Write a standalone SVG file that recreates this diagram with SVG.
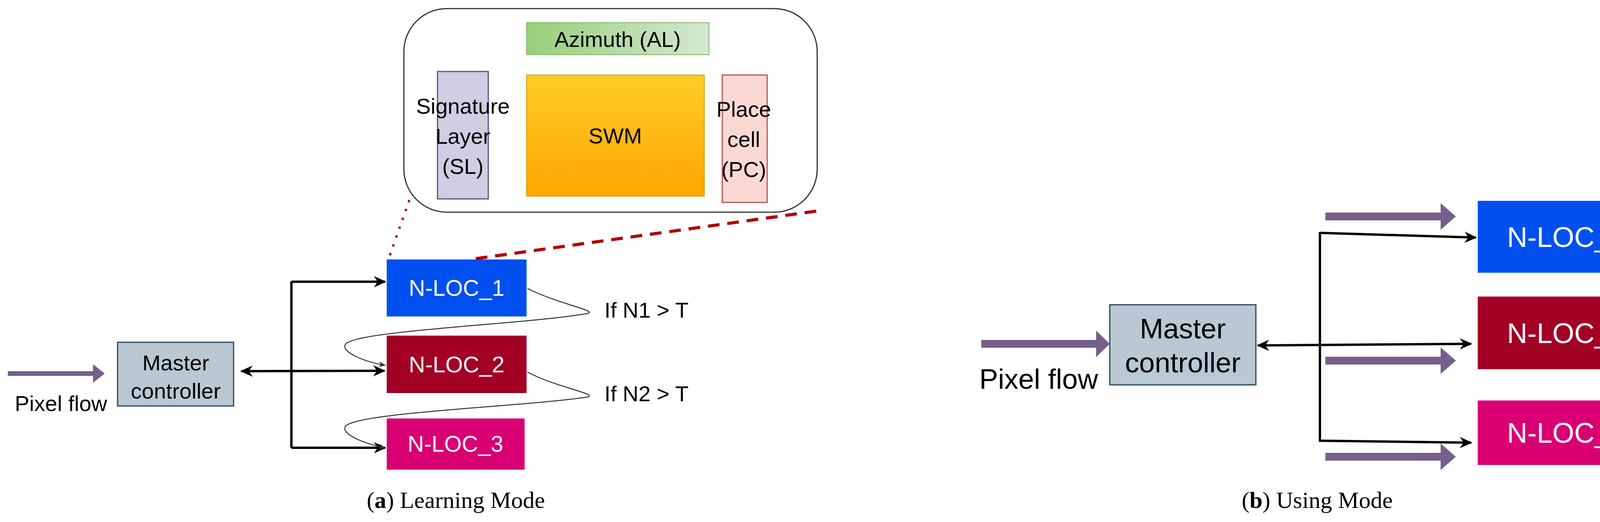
<svg xmlns="http://www.w3.org/2000/svg" width="4244" height="1336" viewBox="0 0 4244 1336">
<defs>
<linearGradient id="gAz" x1="0" y1="0" x2="1" y2="0"><stop offset="0" stop-color="#97d077"/><stop offset="1" stop-color="#d5e8d4"/></linearGradient>
<linearGradient id="gSwm" x1="0" y1="0" x2="0" y2="1"><stop offset="0" stop-color="#ffcd28"/><stop offset="1" stop-color="#ffa500"/></linearGradient>
<marker id="ah" viewBox="0 0 10 10" refX="9" refY="5" markerWidth="18" markerHeight="18" markerUnits="userSpaceOnUse" orient="auto"><path d="M0,1 L10,5 L0,9 L3,5 Z" fill="#333"/></marker>
<marker id="ahs" viewBox="0 0 10 10" refX="9" refY="5" markerWidth="32" markerHeight="32" markerUnits="userSpaceOnUse" orient="auto-start-reverse"><path d="M0,0.5 L10,5 L0,9.5 L3,5 Z" fill="#000"/></marker>
</defs>
<style>
text{font-family:"Liberation Sans",Arial,sans-serif;}
.t{font-size:56px;fill:#000;text-anchor:middle;}
.w{font-size:58px;fill:#fff;text-anchor:middle;}
.w2{font-size:72px;fill:#fff;text-anchor:middle;}
.cap{font-family:"Liberation Serif","Times New Roman",serif;font-size:60px;text-anchor:middle;}
.bus{fill:none;stroke:#000;stroke-width:6;}
.pf{fill:#76608a;}
</style>
<rect width="4244" height="1336" fill="#fff"/>
<g id="zoom-panel">
<rect x="1034" y="22" width="1058" height="521" rx="110" fill="#fff" stroke="#333" stroke-width="3"/>
</g>
<g id="azimuth"><rect x="1348" y="58" width="467" height="82" fill="url(#gAz)" stroke="#82b366" stroke-width="2"/><text class="t" x="1581" y="120">Azimuth (AL)</text></g>
<g id="sl"><rect x="1120" y="183" width="130" height="326" fill="#d0cee2" stroke="#56517e" stroke-width="3"/><text class="t" x="1185" y="291">Signature</text><text class="t" x="1185" y="368">Layer</text><text class="t" x="1185" y="445">(SL)</text></g>
<g id="swm"><rect x="1348" y="192" width="455" height="310" fill="url(#gSwm)" stroke="#d79b00" stroke-width="2"/><text class="t" x="1575" y="367">SWM</text></g>
<g id="pc"><rect x="1849" y="192" width="115" height="326" fill="#fad9d5" stroke="#b85450" stroke-width="3"/><text class="t" x="1904" y="299">Place</text><text class="t" x="1904" y="376">cell</text><text class="t" x="1904" y="453">(PC)</text></g>
<g id="a-master"><rect x="301" y="876" width="297" height="163" fill="#bac8d3" stroke="#23445d" stroke-width="3"/><text class="t" x="450" y="948">Master</text><text class="t" x="450" y="1020">controller</text></g>
<g id="a-nloc1"><rect x="990" y="664" width="358" height="146" fill="#0050ef"/><text class="w" x="1169" y="757">N-LOC_1</text></g>
<g id="a-nloc2"><rect x="990" y="859" width="358" height="147" fill="#a20025"/><text class="w" x="1169" y="953">N-LOC_2</text></g>
<g id="a-nloc3"><rect x="990" y="1071" width="353" height="131" fill="#d80073"/><text class="w" x="1166" y="1156">N-LOC_3</text></g>
<g id="b-master"><rect x="2841" y="780" width="374" height="205" fill="#bac8d3" stroke="#23445d" stroke-width="3"/><text class="w2" x="3028" y="866" style="fill:#000">Master</text><text class="w2" x="3028" y="953" style="fill:#000">controller</text></g>
<g id="b-nloc1"><rect x="3783" y="514" width="458" height="184" fill="#0050ef"/><text class="w2" x="4010" y="632">N-LOC_1</text></g>
<g id="b-nloc2"><rect x="3783" y="759" width="458" height="186" fill="#a20025"/><text class="w2" x="4010" y="878">N-LOC_2</text></g>
<g id="b-nloc3"><rect x="3783" y="1025" width="458" height="165" fill="#d80073"/><text class="w2" x="4010" y="1133">N-LOC_3</text></g>
<g id="connectors">
<path d="M1048,512 L995,662" stroke="#b20000" stroke-width="6" stroke-dasharray="6,18" fill="none"/>
<path d="M1218,662 L2092,540" stroke="#b20000" stroke-width="8" stroke-dasharray="30,20" fill="none"/>
<path class="pf" d="M20,950 H238 V932 L268,956 L238,980 V962 H20 Z"/>
<path class="bus" d="M746,720 V1146"/>
<path class="bus" d="M746,721 H986" marker-end="url(#ahs)"/>
<path class="bus" d="M746,1146 H986" marker-end="url(#ahs)"/>
<path class="bus" d="M618,950 L984,949" marker-start="url(#ahs)" marker-end="url(#ahs)"/>
<path d="M1350,738 C1420,775 1530,795 1505,802 C1350,830 920,845 885,880 C870,900 930,925 986,935" fill="none" stroke="#333" stroke-width="2.5" marker-end="url(#ah)"/>
<path d="M1350,952 C1420,990 1530,1008 1505,1016 C1350,1040 920,1055 885,1090 C870,1110 930,1135 986,1146" fill="none" stroke="#333" stroke-width="2.5" marker-end="url(#ah)"/>
<path class="pf" d="M2512,870 H2806 V846 L2841,880 L2806,914 V890 H2512 Z"/>
<path class="pf" d="M3393,544 H3688 V520 L3727,554 L3688,588 V564 H3393 Z"/>
<path class="pf" d="M3393,913 H3688 V889 L3727,923 L3688,957 V933 H3393 Z"/>
<path class="pf" d="M3393,1159 H3688 V1135 L3727,1169 L3688,1203 V1179 H3393 Z"/>
<path class="bus" d="M3379,594 V1131"/>
<path class="bus" d="M3379,596 L3778,608" marker-end="url(#ahs)"/>
<path class="bus" d="M3379,1128 L3766,1133" marker-end="url(#ahs)"/>
<path class="bus" d="M3220,884 L3766,880" marker-start="url(#ahs)" marker-end="url(#ahs)"/>
</g>
<g id="labels">
<text class="t" x="1655" y="813">If N1 &gt; T</text>
<text class="t" x="1655" y="1027">If N2 &gt; T</text>
<text class="t" x="156" y="1052">Pixel flow</text>
<text class="t" x="2659" y="995" style="font-size:72px">Pixel flow</text>
<text class="cap" x="1167" y="1300">(<tspan font-weight="bold">a</tspan>) Learning Mode</text>
<text class="cap" x="3372" y="1300">(<tspan font-weight="bold">b</tspan>) Using Mode</text>
</g>
</svg>
